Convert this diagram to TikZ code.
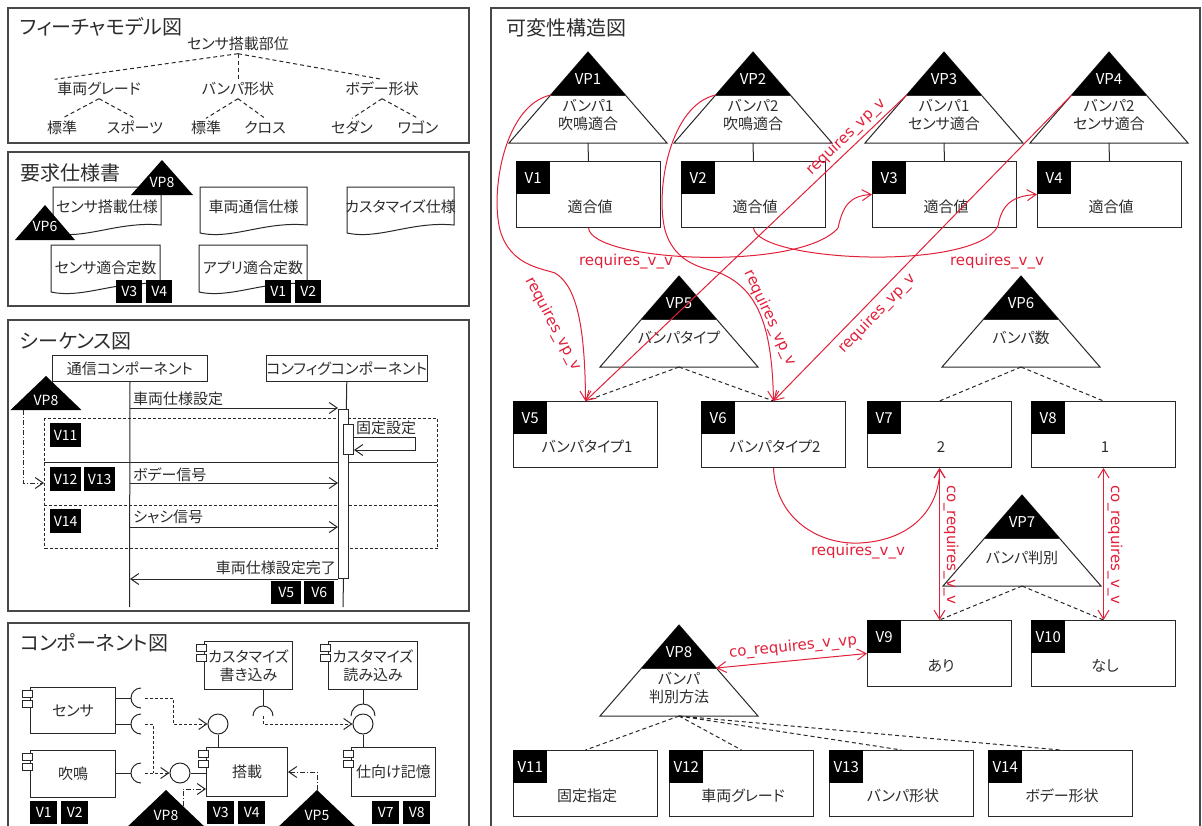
\documentclass[tikz,border=0pt]{standalone}
\usepackage{fontspec}
\setmainfont{Noto Sans CJK JP}[RawFeature={+palt}]
\newfontfamily\lat{DejaVu Sans}
\usetikzlibrary{arrows.meta}
\definecolor{rq}{RGB}{226,32,58}
\definecolor{ink}{RGB}{45,45,45}
\definecolor{edge}{RGB}{40,40,40}
\tikzset{
  x=1pt, y=-1pt,
  panel/.style={draw=edge!85, line width=1.3pt},
  ttl/.style={anchor=west, inner sep=0pt, text=ink, font=\fontsize{20}{22}\selectfont},
  lbl/.style={inner sep=0pt, text=ink, font=\fontsize{15}{18}\selectfont, align=center, text height=12pt, text depth=2pt},
  fnode/.style={lbl, inner sep=2.5pt},
  ln/.style={draw=edge, line width=1pt},
  dsh/.style={draw=edge, line width=1pt, dash pattern=on 4pt off 3pt},
  cdsh/.style={draw=edge, line width=1pt, dash pattern=on 3pt off 2pt},
  dashdot/.style={draw=edge, line width=1pt, dash pattern=on 5pt off 2pt on 1pt off 2pt},
  opentip/.style={-{Straight Barb[length=8pt,width=11pt]}},
  stag/.style={fill=black, text=white, inner sep=0pt, anchor=north west, font=\fontsize{14}{16}\selectfont, minimum height=23pt},
  vtag/.style={fill=black, text=white, inner sep=0pt, anchor=north west, font=\fontsize{15}{17}\selectfont, minimum width=34pt, minimum height=33pt},
  vbox/.style={draw=edge, line width=1pt, fill=white, anchor=north west, minimum width=144pt, minimum height=66pt, inner sep=0pt},
  rqline/.style={draw=rq, line width=1pt},
  rqarr/.style={rqline, -{Straight Barb[length=9pt,width=11pt]}},
  rqdbl/.style={rqline, {Straight Barb[length=9pt,width=11pt]}-{Straight Barb[length=9pt,width=11pt]}},
  rqlbl/.style={text=rq, inner sep=0pt, font=\lat\fontsize{15}{17}\selectfont},
  doc/.style={draw=edge, line width=1pt, fill=white},
  comp/.style={draw=edge, line width=1pt, fill=white, anchor=north west, inner sep=0pt, text=ink, font=\fontsize{15}{18}\selectfont, align=center},
  seqhead/.style={comp},
  act/.style={draw=edge, line width=1pt, fill=white, anchor=north west, inner sep=0pt},
  frag/.style={draw=edge, line width=1pt, dash pattern=on 3pt off 2pt, anchor=north west, inner sep=0pt},
  ball/.style={circle, draw=edge, line width=1pt, fill=white, minimum size=20pt, inner sep=0pt},
  vpname/.style={text=white, inner sep=0pt, font=\fontsize{15}{17}\selectfont},
}
% big variation point triangle: name, apex x, apex y, label, body, body offset
\newcommand\VPT[6]{%
  \draw[ln, fill=white, line join=miter] (#2,#3) coordinate (#1-apex) -- ({#2-79},{#3+91}) coordinate (#1-bl) -- ({#2+79},{#3+91}) coordinate (#1-br) -- cycle;
  \fill[black] (#2,#3) -- ({#2-37.3},{#3+43}) -- ({#2+37.3},{#3+43}) -- cycle;
  \draw[ln] ({#2-37.3},{#3+43}) coordinate (#1-ml) -- ({#2+37.3},{#3+43}) coordinate (#1-mr);
  \coordinate (#1-base) at (#2,{#3+91});
  \node[vpname] (#1-name) at (#2,{#3+27}) {#4};
  \node[lbl] (#1-body) at (#2,{#3+#6}) {#5};
}
% small black triangle: name, apex x, apex y, half width, height, label, label offset
\newcommand\SVP[7]{%
  \fill[black] (#2,#3) coordinate (#1-apex) -- ({#2-#4},{#3+#5}) coordinate (#1-bl) -- ({#2+#4},{#3+#5}) coordinate (#1-br) -- cycle;
  \node[vpname, font=\fontsize{14}{16}\selectfont] (#1-name) at (#2,{#3+#7}) {#6};
}
% document: name, x1, y1, x2, y2 (left bottom), text y, text
\newcommand\DOC[7]{%
  \draw[doc] (#2,#3) -- (#4,#3) -- (#4,{#5-8}) .. controls ({#2+0.6*(#4-#2)},{#5-12}) and ({#2+0.3*(#4-#2)},{#5+7}) .. (#2,#5) -- cycle;
  \node[lbl] (#1) at ({(#2+#4)/2},#6) {#7};
}
% component: name, x, y, w, h, text
\newcommand\COMP[6]{%
  \node[comp, minimum width=#4, minimum height=#5] (#1) at (#2,#3) {#6};
  \draw[ln, fill=white] ({#2-8},{#3+3}) rectangle ({#2+2},{#3+10});
  \draw[ln, fill=white] ({#2-8},{#3+13}) rectangle ({#2+2},{#3+20});
}
% variant box: name(=label), x, y, text
\newcommand\VB[4]{%
  \node[vbox] (#1) at (#2,#3) {};
  \node[vtag] (#1-t) at (#1.north west) {#1};
  \node[lbl] (#1-v) at ({#2+74},{#3+46}) {#4};
}
\begin{document}
\begin{tikzpicture}
\useasboundingbox (0,0) rectangle (1202,825);
\fill[white] (0,0) rectangle (1202,825);
\begin{scope}
\clip (0,0) rectangle (1202,825);

% ---------------- panel 1: feature model
\draw[panel] (8,8) rectangle (469,143);
\node[ttl] (t1) at (20,27) {フィーチャモデル図};
\node[fnode] (f0) at (238,44) {センサ搭載部位};
\node[fnode] (f1) at (99,89) {車両グレード};
\node[fnode] (f2) at (238,89) {バンパ形状};
\node[fnode] (f3) at (382,89) {ボデー形状};
\node[fnode] (f11) at (62,128) {標準};
\node[fnode] (f12) at (135,128) {スポーツ};
\node[fnode] (f21) at (206,128) {標準};
\node[fnode] (f22) at (265,128) {クロス};
\node[fnode] (f31) at (352,128) {セダン};
\node[fnode] (f32) at (418,128) {ワゴン};
\draw[dsh] (f0.south) -- (f1.north west);
\draw[dsh] (f0.south) -- (f2.north);
\draw[dsh] (f0.south) -- (f3.north);
\draw[dsh] (f1.south) -- (f11.north);
\draw[dsh] (f1.south) -- (f12.north);
\draw[dsh] (f2.south) -- (f21.north);
\draw[dsh] (f2.south) -- (f22.north);
\draw[dsh] (f3.south) -- (f31.north);
\draw[dsh] (f3.south) -- (f32.north);

% ---------------- panel 2: requirements
\draw[panel] (8,152) rectangle (469,306);
\node[ttl] (t2) at (20,173) {要求仕様書};
\DOC{d1}{53}{187}{161}{233}{207}{センサ搭載仕様}
\DOC{d2}{200}{187}{307}{233}{207}{車両通信仕様}
\DOC{d3}{347}{187}{454}{233}{207}{カスタマイズ仕様}
\DOC{d4}{51}{245}{160}{292}{268}{センサ適合定数}
\DOC{d5}{199}{245}{307}{292}{268}{アプリ適合定数}
\SVP{pvpa}{162}{160}{31}{35}{VP8}{22}
\SVP{pvpb}{45}{205}{30}{35}{VP6}{21}
\node[stag, minimum width=26] (q3) at (116,280) {V3};
\node[stag, minimum width=26] (q4) at (146,280) {V4};
\node[stag, minimum width=26] (q1) at (265,280) {V1};
\node[stag, minimum width=26] (q2) at (295,280) {V2};

% ---------------- panel 3: sequence
\draw[panel] (8,320) rectangle (469,611);
\node[ttl] (t3) at (20,341) {シーケンス図};
\node[frag, minimum width=393, minimum height=130] (frag) at (44,418) {};
\coordinate (fd1l) at (44,462); \coordinate (fd1r) at (437,462);
\coordinate (fd2l) at (44,505); \coordinate (fd2r) at (437,505);
\draw[ln] (fd1l) -- (fd1r);
\draw[cdsh] (fd2l) -- (fd2r);
\node[seqhead, minimum width=155, minimum height=26] (L1) at (52,355) {通信コンポーネント};
\node[seqhead, minimum width=154, minimum height=26] (L2) at (266,355) {コンフィグコンポーネント};
\coordinate (L1e) at (129.5,607);
\coordinate (L2e) at (343,607);
\draw[ln] (L1.south) -- (L1e);
\draw[ln] (L2.south) -- (L2e);
\node[act, minimum width=10, minimum height=169] (A1) at (338,409) {};
\node[act, minimum width=10, minimum height=30] (A2) at (343,424) {};
\coordinate (m1s) at (129.5,408);
\draw[ln, opentip] (m1s) -- (m1s -| A1.west);
\node[lbl, anchor=west] (m1l) at (133,399) {車両仕様設定};
\draw[ln, opentip] ([yshift=-13pt]A2.north east) -- ++(61,0) -- ++(0,13) -- ([yshift=-26pt]A2.north east);
\node[lbl, anchor=west] (sl) at (356,428) {固定設定};
\coordinate (m2s) at (129.5,483);
\draw[ln, opentip] (m2s) -- (m2s -| A1.west);
\node[lbl, anchor=west] (m2l) at (133,475) {ボデー信号};
\coordinate (m3s) at (129.5,527);
\draw[ln, opentip] (m3s) -- (m3s -| A1.west);
\node[lbl, anchor=west] (m3l) at (133,517) {シャシ信号};
\draw[ln, opentip] (A1.south west) -- (A1.south west -| L1.south);
\node[lbl, anchor=east] (m4l) at (336,568) {車両仕様設定完了};
\node[stag, minimum width=31, minimum height=24] (q11) at (50,423) {V11};
\node[stag, minimum width=31, minimum height=24] (q12) at (50,467) {V12};
\node[stag, minimum width=31, minimum height=24] (q13) at (84,467) {V13};
\node[stag, minimum width=31, minimum height=24] (q14) at (50,509) {V14};
\node[stag, minimum width=30] (q5) at (271,581) {V5};
\node[stag, minimum width=30] (q6) at (304,581) {V6};
\SVP{svp}{46}{376}{35.5}{34}{VP8}{24}
\coordinate (ddA) at (23,410);
\coordinate (ddB) at (44,483);
\draw[dashdot, opentip] (ddA) |- (ddB);

% ---------------- panel 4: components
\draw[panel] (8,623) rectangle (469,840);
\node[ttl] (t4) at (20,643) {コンポーネント図};
\COMP{c1}{30}{687}{85}{46}{センサ}
\COMP{c2}{30}{750}{85}{47}{吹鳴}
\COMP{c3}{204}{641}{88}{48}{カスタマイズ\\書き込み}
\COMP{c4}{328}{641}{89}{48}{カスタマイズ\\読み込み}
\COMP{c5}{206}{747}{81}{49}{搭載}
\COMP{c6}{351}{747}{84}{49}{仕向け記憶}
\coordinate (s1) at (141,698);
\coordinate (s2) at (141,724);
\coordinate (s3) at (141,773);
\coordinate (s4) at (263,716);
\coordinate (s5) at (363,716);
\draw[ln] (s1 -| c1.east) -- ([xshift=-10pt]s1);
\draw[ln] ([yshift=10pt]s1) arc[start angle=90, end angle=270, radius=10pt];
\draw[ln] (s2 -| c1.east) -- ([xshift=-10pt]s2);
\draw[ln] ([yshift=10pt]s2) arc[start angle=90, end angle=270, radius=10pt];
\draw[ln] (s3 -| c2.east) -- ([xshift=-10pt]s3);
\draw[ln] ([yshift=10pt]s3) arc[start angle=90, end angle=270, radius=10pt];
\node[ball] (b1) at (218,724) {};
\node[ball] (b2) at (180,773) {};
\node[ball] (b3) at (363,724) {};
\draw[ln] (b1.south) -- (b1.south |- c5.north);
\draw[ln] (b2.east) -- (b2.east -| c5.west);
\draw[ln] (b3.south) -- (b3.south |- c6.north);
\coordinate (j2) at (153,773);
\draw[cdsh, opentip] ([xshift=4pt]s1) -- ++(28,0) |- (b1.west);
\draw[cdsh] ([xshift=4pt]s2) -| (j2);
\draw[cdsh, opentip] ([xshift=4pt]s3) -- (b2.west);
\draw[ln] (c3.south -| s4) -- ([yshift=10pt]s4);
\draw[ln] ([xshift=-10pt]s4) arc[start angle=180, end angle=0, radius=10pt];
\draw[cdsh, opentip] (s4) |- (b3.west);
\draw[ln] (c4.south -| s5) -- ([yshift=12pt]s5);
\draw[ln] ([xshift=-12pt]s5) arc[start angle=180, end angle=0, radius=12pt];
\SVP{cvp8}{166}{790}{42}{40}{VP8}{25}
\SVP{cvp5}{317}{790}{42}{40}{VP5}{25}
\coordinate (dd1) at (183,806);
\coordinate (dd1e) at (206,789);
\draw[dashdot, opentip] (dd1) |- (dd1e);
\draw[dashdot, opentip] (cvp5-apex) |- (c5.east);
\node[stag, minimum width=27] (k1) at (30,801) {V1};
\node[stag, minimum width=27] (k2) at (61,801) {V2};
\node[stag, minimum width=27] (k3) at (207,801) {V3};
\node[stag, minimum width=27] (k4) at (238,801) {V4};
\node[stag, minimum width=27] (k7) at (372,801) {V7};
\node[stag, minimum width=27] (k8) at (403,801) {V8};

% ---------------- right panel: variability structure
\draw[panel] (491,8) rectangle (1200,840);
\node[ttl] (t5) at (506,28) {可変性構造図};
\VPT{VP1}{588}{52}{VP1}{バンパ1\\吹鳴適合}{72}
\VPT{VP2}{753}{52}{VP2}{バンパ2\\吹鳴適合}{72}
\VPT{VP3}{944}{52}{VP3}{バンパ1\\センサ適合}{72}
\VPT{VP4}{1109}{52}{VP4}{バンパ2\\センサ適合}{72}
\VPT{VP5}{679}{276}{VP5}{バンパタイプ}{62}
\VPT{VP6}{1021}{276}{VP6}{バンパ数}{62}
\VPT{VP7}{1022}{495}{VP7}{バンパ判別}{63}
\VPT{VP8}{679}{625}{VP8}{バンパ\\判別方法}{72}
\VB{V1}{516}{161}{適合値}
\VB{V2}{681}{161}{適合値}
\VB{V3}{872}{161}{適合値}
\VB{V4}{1037}{161}{適合値}
\VB{V5}{513}{401}{バンパタイプ1}
\VB{V6}{701}{401}{バンパタイプ2}
\VB{V7}{867}{401}{2}
\VB{V8}{1031}{401}{1}
\VB{V9}{867}{620}{あり}
\VB{V10}{1031}{620}{なし}
\VB{V11}{513}{750}{固定指定}
\VB{V12}{669}{750}{車両グレード}
\VB{V13}{829}{750}{バンパ形状}
\VB{V14}{988}{750}{ボデー形状}
\draw[ln] (VP1-base) -- (V1.north);
\draw[ln] (VP2-base) -- (V2.north);
\draw[ln] (VP3-base) -- (V3.north);
\draw[ln] (VP4-base) -- (V4.north);
\draw[dsh] (VP5-base) -- (V5.north);
\draw[dsh] (VP5-base) -- (V6.north);
\draw[dsh] (VP6-base) -- (V7.north);
\draw[dsh] (VP6-base) -- (V8.north);
\draw[dsh] (VP7-base) -- (V9.north);
\draw[dsh] (VP7-base) -- (V10.north);
\draw[dsh] (VP8-base) -- (V11.north);
\draw[dsh] (VP8-base) -- (V12.north);
\draw[dsh] (VP8-base) -- (V13.north);
\draw[dsh] (VP8-base) -- (V14.north);

% red relations
\draw[rqarr] (V1.south) .. controls (592,262) and (800,272) .. (838,228) .. controls (843,205) and (850,196) .. (V3-t.south west);
\draw[rqarr] (V2.south) .. controls (758,262) and (975,272) .. (998,226) .. controls (1002,202) and (1015,196) .. (V4-t.south west);
\draw[rqarr] (VP1-ml) .. controls (505,105) and (490,190) .. (500,230) .. controls (510,265) and (540,268) .. (555,273) .. controls (575,285) and (585,320) .. (V5.north);
\draw[rqarr] (VP2-ml) .. controls (670,105) and (655,190) .. (665,230) .. controls (675,265) and (705,268) .. (720,273) .. controls (760,290) and (772,330) .. (V6.north);
\draw[rqarr] (VP3-ml) -- (V5.north);
\draw[rqarr] (VP4-ml) -- (V6.north);
\draw[rqarr] (V6.south) .. controls (776,520) and (820,545) .. (860,543) .. controls (915,540) and (940,505) .. (V7.south);
\draw[rqdbl] (V7.south) -- (V9.north);
\draw[rqdbl] (V8.south) -- (V10.north);
\draw[rqdbl] (VP8-mr) -- (V9.west);
\node[rqlbl] (r1) at (626,262) {requires\_v\_v};
\node[rqlbl] (r2) at (997,262) {requires\_v\_v};
\node[rqlbl] (r3) at (858,552) {requires\_v\_v};
\node[rqlbl, rotate=-62] (r4) at (553,324) {requires\_vp\_v};
\node[rqlbl, rotate=-65] (r5) at (770,318) {requires\_vp\_v};
\node[rqlbl, rotate=44] (r6) at (846,137) {requires\_vp\_v};
\node[rqlbl, rotate=46] (r7) at (877,314) {requires\_vp\_v};
\node[rqlbl, rotate=-90] (r8) at (951,545) {co\_requires\_v\_v};
\node[rqlbl, rotate=-90] (r9) at (1115,545) {co\_requires\_v\_v};
\node[rqlbl, rotate=5.7] (r10) at (793,647) {co\_requires\_v\_vp};
\end{scope}
\end{tikzpicture}
\end{document}
